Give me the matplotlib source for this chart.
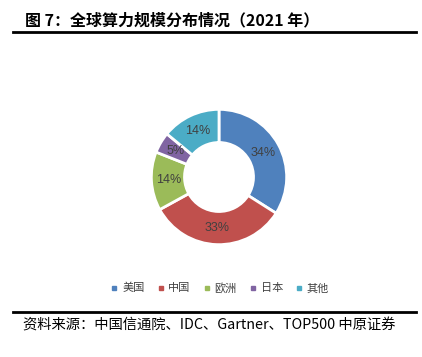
import matplotlib.pyplot as plt
from matplotlib.lines import Line2D

plt.rcParams['font.family'] = ['Noto Sans CJK SC', 'DejaVu Sans']

# Data
regions = ["美国", "中国", "欧洲", "日本", "其他"]
shares = [34, 33, 14, 5, 14]  # [%]
colors = ["#4F81BD", "#C0504D", "#9BBB59", "#8064A2", "#4BACC6"]

W, H = 422, 357
fig = plt.figure(figsize=(W / 100, H / 100), dpi=100)

# donut centred at (219, 177) px, outer radius 69 px
cx, cy, r = 219, 177, 69
ax = fig.add_axes([(cx - r) / W, (H - cy - r) / H, 2 * r / W, 2 * r / H])
wedges, _, autotexts = ax.pie(
    shares, colors=colors, startangle=90, counterclock=False,
    radius=1, autopct="%.0f%%", pctdistance=0.75,
    wedgeprops=dict(width=0.49, edgecolor="white", linewidth=2),
    textprops=dict(color="#404040", fontsize=9, family=["Liberation Sans", "DejaVu Sans"]),
)
ax.set_xlim(-1.02, 1.02)
ax.set_ylim(-1.02, 1.02)
ax.set_aspect("equal")
ax.axis("off")

handles = [Line2D([], [], ls="none", marker="s", markersize=3.5, color=c) for c in colors]
leg = fig.legend(
    handles, regions, loc="center", bbox_to_anchor=(220 / W, 1 - 288 / H),
    ncol=5, frameon=False, fontsize=8, handlelength=0.6,
    handletextpad=0.4, columnspacing=1.15,
)
for t in leg.get_texts():
    t.set_color("#404040")

# title and rules
fig.text(25 / W, 1 - 20 / H, "图 7：全球算力规模分布情况（2021 年）",
         fontsize=11.5, fontweight="bold", va="center", ha="left")
fig.add_artist(Line2D([13 / W, 416 / W], [1 - 32 / H] * 2, lw=2, color="black"))
fig.add_artist(Line2D([13 / W, 416 / W], [1 - 312 / H] * 2, lw=2, color="black"))
fig.text(23 / W, 1 - 326 / H, "资料来源：中国信通院、IDC、Gartner、TOP500 中原证券",
         fontsize=10.3, va="center", ha="left")

fig.savefig("out.png", dpi=100)
